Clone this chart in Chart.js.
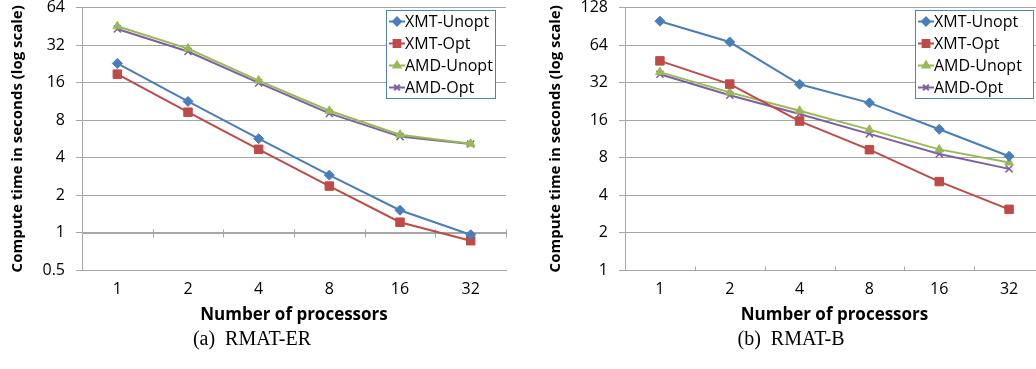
<!DOCTYPE html>
<html>
<head>
<meta charset="utf-8">
<script src="https://cdn.jsdelivr.net/npm/chart.js@4.4.0/dist/chart.umd.min.js"></script>
<style>
  html, body { margin: 0; padding: 0; background: #fff; overflow: hidden; }
  body { width: 1036px; height: 369px; position: relative; }
  .box { position: absolute; top: -13px; width: 520px; height: 343px; }
  .caption { position: absolute; top: 327px; font-family: "Liberation Serif", "DejaVu Serif", serif; font-size: 20px; color: #000; transform: translateX(-50%); white-space: pre; }
</style>
</head>
<body>
<div class="box" style="left:0px"><canvas id="chartA" width="520" height="343"></canvas></div>
<div class="box" style="left:538px"><canvas id="chartB" width="520" height="343"></canvas></div>
<div class="caption" style="left:252px">(a)  RMAT-ER</div>
<div class="caption" style="left:791px">(b)  RMAT-B</div>

<script>
// ---- data ----
const processors = ['1', '2', '4', '8', '16', '32'];

// (a) RMAT-ER
const erXmtUnopt = [22.8, 11.3, 5.67, 2.89, 1.51, 0.96];
const erXmtOpt   = [18.7, 9.25, 4.66, 2.36, 1.21, 0.86];
const erAmdUnopt = [45.3, 30.0, 16.6, 9.5, 6.1, 5.17];
const erAmdOpt   = [43.1, 28.4, 15.9, 9.05, 5.89, 5.14];
const erTicks    = [0.5, 1, 2, 4, 8, 16, 32, 64];

// (b) RMAT-B
const bXmtUnopt = [99.6, 67.7, 31.0, 22.0, 13.5, 8.2];
const bXmtOpt   = [47.8, 31.1, 15.7, 9.25, 5.13, 3.07];
const bAmdUnopt = [38.8, 26.7, 19.0, 13.4, 9.3, 7.3];
const bAmdOpt   = [37.3, 25.3, 17.9, 12.4, 8.55, 6.49];
const bTicks    = [1, 2, 4, 8, 16, 32, 64, 128];

const seriesNames = ['XMT-Unopt', 'XMT-Opt', 'AMD-Unopt', 'AMD-Opt'];

// ---- style ----
const FONT = '"Open Sans", "Liberation Sans", sans-serif';
const GRID = '#a6a6a6';
const styles = [
  { color: '#4a7ebb', pointStyle: 'rectRot', radius: 5 },
  { color: '#be4b48', pointStyle: 'rect', radius: 6 },
  { color: '#98b954', pointStyle: 'triangle', radius: 5 },
  { color: '#7d60a0', pointStyle: 'crossRot', radius: 5 }
];

// Excel-like legend drawn inside the plot
const boxLegend = {
  id: 'boxLegend',
  afterDraw(chart, args, opts) {
    const ctx = chart.ctx;
    const b = opts.box;
    ctx.save();
    ctx.fillStyle = '#fff';
    ctx.fillRect(b.x, b.y, b.w, b.h);
    ctx.strokeStyle = '#4f81bd';
    ctx.lineWidth = 1;
    ctx.strokeRect(b.x + 0.5, b.y + 0.5, b.w, b.h);
    ctx.textBaseline = 'middle';
    ctx.textAlign = 'left';
    chart.data.datasets.forEach((ds, i) => {
      const y = b.y + 11.5 + i * 22;
      const x0 = b.x + 3;
      ctx.strokeStyle = ds.borderColor;
      ctx.fillStyle = ds.borderColor;
      ctx.lineWidth = 2;
      ctx.beginPath();
      ctx.moveTo(x0, y);
      ctx.lineTo(x0 + 16, y);
      ctx.stroke();
      Chart.helpers.drawPoint(ctx, {
        pointStyle: ds.pointStyle,
        radius: ds.pointRadius * 0.8,
        rotation: 0,
        borderWidth: ds.pointStyle === 'crossRot' ? 1.5 : 1
      }, x0 + 8, y);
      ctx.font = '16px ' + FONT;
      ctx.fillStyle = '#000';
      ctx.fillText(ds.label, x0 + 16, y + 1);
    });
    ctx.restore();
  }
};

// horizontal axis line with category tick marks, crossing at a given value
const crossAxis = {
  id: 'crossAxis',
  beforeDatasetsDraw(chart, args, opts) {
    const ctx = chart.ctx;
    const xs = chart.scales.x, ys = chart.scales.y;
    const y = Math.round(ys.getPixelForValue(opts.at)) + 0.5;
    const step = xs.getPixelForValue(1) - xs.getPixelForValue(0);
    ctx.save();
    ctx.strokeStyle = GRID;
    ctx.lineWidth = 1;
    ctx.beginPath();
    ctx.moveTo(chart.chartArea.left, y);
    ctx.lineTo(chart.chartArea.right, y);
    for (let i = 0; i < processors.length; i++) {
      const x = Math.round(xs.getPixelForValue(i) + step / 2) + 0.5;
      ctx.moveTo(x, y - opts.up);
      ctx.lineTo(x, y + opts.down);
    }
    ctx.stroke();
    ctx.restore();
  }
};

function makeChart(id, data, ticks, legendBox, crossDown, yWidth) {
  const datasets = data.map((vals, i) => ({
    label: seriesNames[i],
    data: vals,
    borderColor: styles[i].color,
    backgroundColor: styles[i].color,
    pointBorderColor: styles[i].color,
    pointBackgroundColor: styles[i].color,
    pointStyle: styles[i].pointStyle,
    pointRadius: styles[i].radius,
    pointBorderWidth: styles[i].pointStyle === 'crossRot' ? 1.5 : 1,
    borderWidth: 2,
    tension: 0
  }));
  return new Chart(document.getElementById(id), {
    type: 'line',
    data: { labels: processors, datasets },
    options: {
      responsive: false,
      animation: false,
      layout: { autoPadding: false, padding: { top: 6, right: 14, bottom: 0, left: 0 } },
      plugins: {
        legend: { display: false },
        tooltip: { enabled: false },
        boxLegend: { box: legendBox },
        crossAxis: { at: 1, up: 4, down: crossDown }
      },
      scales: {
        x: {
          type: 'category',
          offset: true,
          grid: { display: false, drawTicks: false },
          border: { display: true, color: GRID },
          ticks: { color: '#000', font: { family: FONT, size: 16 }, padding: 10, maxRotation: 0 },
          title: {
            display: true, text: 'Number of processors', color: '#000',
            font: { family: FONT, size: 17, weight: 'bold' }, padding: { top: 0, bottom: 5 }
          },
          afterFit(s) { s.height = 60; }
        },
        y: {
          type: 'logarithmic',
          min: ticks[0],
          max: ticks[ticks.length - 1],
          afterBuildTicks(s) { s.ticks = ticks.map(v => ({ value: v })); },
          grid: { color: GRID, tickLength: 6, drawTicks: true },
          border: { display: true, color: GRID },
          ticks: {
            color: '#000', font: { family: FONT, size: 16 }, padding: 11,
            callback: v => String(v)
          },
          title: {
            display: true, text: 'Compute time in seconds (log scale)', color: '#000',
            font: { family: FONT, size: 15, weight: 'bold' }, padding: { top: 9, bottom: 0 }
          },
          afterFit(s) { s.width = yWidth; }
        }
      }
    },
    plugins: [crossAxis, boxLegend]
  });
}

makeChart('chartA', [erXmtUnopt, erXmtOpt, erAmdUnopt, erAmdOpt], erTicks,
  { x: 386, y: 23, w: 109, h: 88 }, 4, 82);
makeChart('chartB', [bXmtUnopt, bXmtOpt, bAmdUnopt, bAmdOpt], bTicks,
  { x: 377, y: 23, w: 118, h: 88 }, 0, 87);
</script>
</body>
</html>
